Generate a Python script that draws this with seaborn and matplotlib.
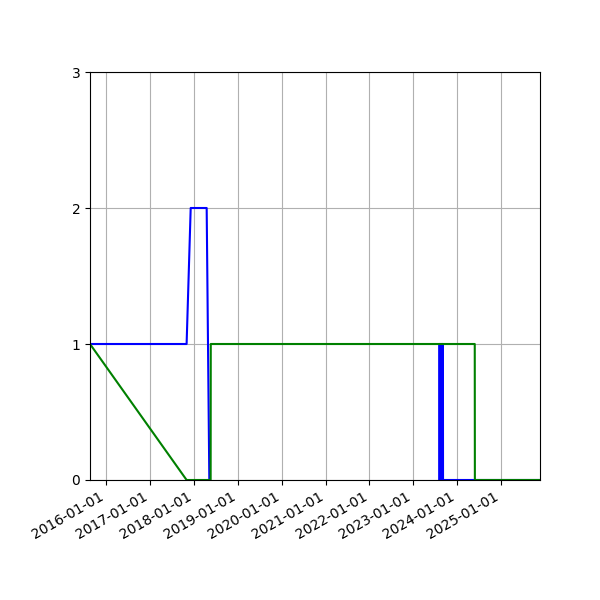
import pandas as pd
import matplotlib
matplotlib.use("Agg")
import matplotlib.pyplot as plt
import matplotlib.dates as mdates
import seaborn as sns

# blue series, first part (ends when the data goes missing)
blue_a_dates = ["2015-08-21", "2017-11-02", "2017-12-06", "2018-04-18", "2018-05-10"]
blue_a_values = [1, 1, 2, 2, 0]

# blue series, second part (short burst in 2023, then zero)
blue_b_dates = ["2023-08-05", "2023-08-06", "2023-08-11", "2023-08-12", "2023-08-17",
                "2023-08-18", "2023-08-23", "2023-08-24", "2023-08-30", "2023-08-31",
                "2023-09-05", "2023-09-06", "2025-11-21"]
blue_b_values = [0, 1, 1, 0, 0, 1, 1, 0, 0, 1, 1, 0, 0]

green_dates = ["2015-08-21", "2017-11-02", "2018-05-21", "2018-05-22", "2024-05-27",
               "2024-05-28", "2025-11-21"]
green_values = [1, 0, 0, 1, 1, 0, 0]

blue_a = pd.DataFrame({"date": pd.to_datetime(blue_a_dates), "value": blue_a_values})
blue_b = pd.DataFrame({"date": pd.to_datetime(blue_b_dates), "value": blue_b_values})
green = pd.DataFrame({"date": pd.to_datetime(green_dates), "value": green_values})

fig, ax = plt.subplots(figsize=(6, 6), dpi=100)

sns.lineplot(data=blue_a, x="date", y="value", color="blue", estimator=None, legend=False, ax=ax)
sns.lineplot(data=blue_b, x="date", y="value", color="blue", estimator=None, legend=False, ax=ax)
sns.lineplot(data=green, x="date", y="value", color="green", estimator=None, legend=False, ax=ax)

ax.set_xlim(green["date"].min(), green["date"].max())
ax.set_ylim(0, 3)
ax.set_yticks([0, 1, 2, 3])
ax.xaxis.set_major_locator(mdates.YearLocator())
ax.xaxis.set_major_formatter(mdates.DateFormatter("%Y-%m-%d"))
ax.set_xlabel("")
ax.set_ylabel("")
ax.grid(True)

fig.autofmt_xdate()
fig.subplots_adjust(left=0.15, right=0.9, top=0.88, bottom=0.2)
fig.savefig("out.png")
